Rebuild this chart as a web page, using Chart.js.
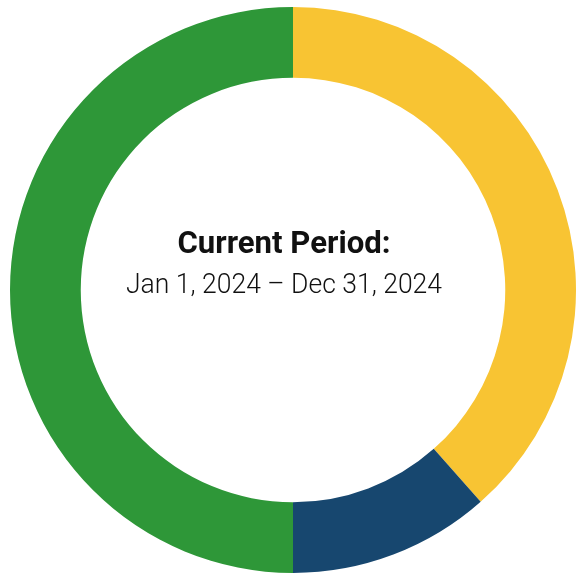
<!DOCTYPE html>
<html>
<head>
<meta charset="utf-8">
<script src="https://cdn.jsdelivr.net/npm/chart.js@4.4.1/dist/chart.umd.min.js"></script>
<style>
  html, body { margin: 0; padding: 0; background: #fff; }
  #wrap { width: 576px; height: 575px; position: relative; }
</style>
</head>
<body>
<div id="wrap"><canvas id="c" width="576" height="575"></canvas></div>
<script>
const categories = ['Yellow', 'Blue', 'Green'];
const values = [10, 3, 13];
const colors = ['#F8C433', '#17476F', '#2E9738'];
const centerTitle = 'Current Period:';
const centerSubtitle = 'Jan 1, 2024 \u2013 Dec 31, 2024';

const centerText = {
  id: 'centerText',
  afterDraw(chart) {
    const arc = chart.getDatasetMeta(0).data[0];
    if (!arc) return;
    const ctx = chart.ctx;
    const cx = arc.x - 9, cy = arc.y;
    function drawFit(text, font, baseline, width) {
      ctx.save();
      ctx.font = font;
      const w = ctx.measureText(text).width;
      const s = width / w;
      ctx.translate(cx, baseline);
      ctx.scale(s, 1);
      ctx.textAlign = 'center';
      ctx.textBaseline = 'alphabetic';
      ctx.fillStyle = '#111';
      ctx.fillText(text, 0, 0);
      ctx.restore();
    }
    drawFit(centerTitle, 'bold 31px Roboto', cy - 37, 213);
    drawFit(centerSubtitle, '300 27.5px Roboto', cy + 3, 316);
  }
};

new Chart(document.getElementById('c'), {
  type: 'doughnut',
  data: {
    labels: categories,
    datasets: [{
      data: values,
      backgroundColor: colors,
      borderWidth: 0
    }]
  },
  options: {
    responsive: false,
    animation: false,
    cutout: '75%',
    layout: { padding: { left: 10, right: 0, top: 5, bottom: 0 } },
    plugins: { legend: { display: false }, tooltip: { enabled: false } }
  },
  plugins: [centerText]
});
</script>
</body>
</html>
